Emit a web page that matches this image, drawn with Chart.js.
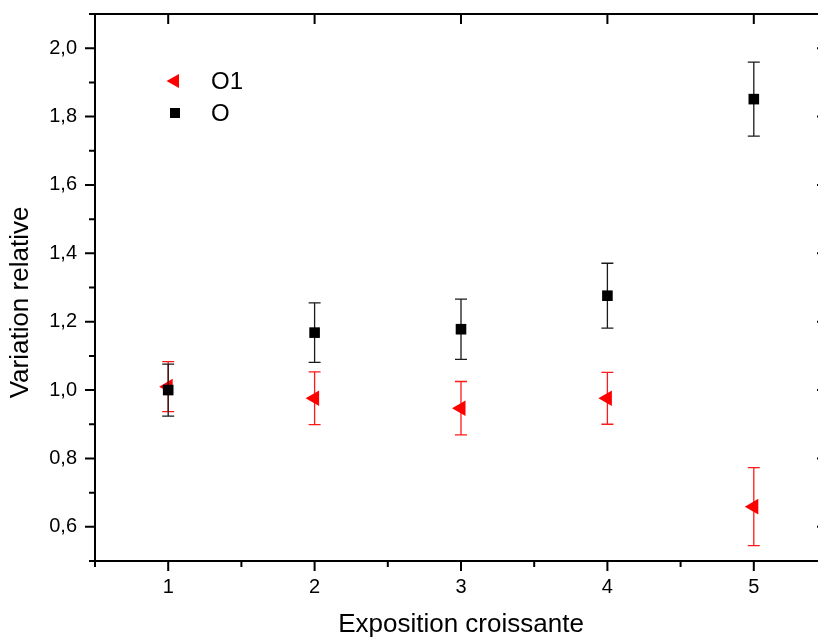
<!DOCTYPE html>
<html>
<head>
<meta charset="utf-8">
<script src="https://cdn.jsdelivr.net/npm/chart.js@4.4.0/dist/chart.umd.min.js"></script>
<style>
  html, body { margin: 0; padding: 0; background: #fff; overflow: hidden; }
  #wrap { width: 840px; height: 640px; }
</style>
</head>
<body>
<div id="wrap"><canvas id="chart" width="840" height="640"></canvas></div>
<script>
// data
const expo = [1, 2, 3, 4, 5];
const o1Values = [1.01, 0.976, 0.947, 0.976, 0.659];
const o1Errors = [0.073, 0.077, 0.078, 0.076, 0.114];
const oValues = [1.0, 1.168, 1.178, 1.276, 1.851];
const oErrors = [0.076, 0.087, 0.088, 0.095, 0.108];
const xTicks = [1, 2, 3, 4, 5];
const yTicks = [0.6, 0.8, 1.0, 1.2, 1.4, 1.6, 1.8, 2.0];

Chart.defaults.font.family = "'Liberation Sans', Arial, sans-serif";
Chart.defaults.color = '#000';

// error bars drawn under each dataset's own markers
const errorBars = {
    id: 'errorBars',
    beforeDatasetDraw(chart, args) {
        const ds = chart.data.datasets[args.index];
        if (!ds.errors) return;
        const ctx = chart.ctx;
        const yScale = chart.scales.y;
        ctx.save();
        ctx.strokeStyle = ds.errorColor;
        ctx.lineWidth = 1.3;
        args.meta.data.forEach((pt, i) => {
            const v = ds.data[i].y;
            const e = ds.errors[i];
            const top = yScale.getPixelForValue(v + e);
            const bot = yScale.getPixelForValue(v - e);
            ctx.beginPath();
            ctx.moveTo(pt.x, top);
            ctx.lineTo(pt.x, bot);
            ctx.moveTo(pt.x - 6, top);
            ctx.lineTo(pt.x + 6, top);
            ctx.moveTo(pt.x - 6, bot);
            ctx.lineTo(pt.x + 6, bot);
            ctx.stroke();
        });
        ctx.restore();
    }
};

// box frame with major / minor ticks on all sides, plus the y title
const frame = {
    id: 'frame',
    afterDraw(chart) {
        const ctx = chart.ctx;
        const { left, right, top, bottom } = chart.chartArea;
        const xs = chart.scales.x, ys = chart.scales.y;
        ctx.save();
        ctx.strokeStyle = '#000';
        ctx.lineWidth = 2;
        ctx.strokeRect(left, top, right - left, bottom - top);

        const yStep = yTicks[1] - yTicks[0];
        const xStep = xTicks[1] - xTicks[0];
        ctx.beginPath();
        yTicks.forEach(v => {
            const y = ys.getPixelForValue(v);
            ctx.moveTo(left - 10, y); ctx.lineTo(left, y);
            ctx.moveTo(right - 10, y); ctx.lineTo(right, y);
        });
        for (let v = yTicks[0] - yStep / 2; v <= ys.max + 1e-9; v += yStep) {
            if (v < ys.min - 1e-9) continue;
            const y = ys.getPixelForValue(v);
            ctx.moveTo(left - 6, y); ctx.lineTo(left, y);
        }
        xTicks.forEach(v => {
            const x = xs.getPixelForValue(v);
            ctx.moveTo(x, bottom); ctx.lineTo(x, bottom + 10);
            ctx.moveTo(x, top); ctx.lineTo(x, top + 10);
        });
        for (let v = xTicks[0] - xStep / 2; v <= xs.max + 1e-9; v += xStep) {
            if (v < xs.min - 1e-9) continue;
            const x = xs.getPixelForValue(v);
            ctx.moveTo(x, bottom); ctx.lineTo(x, bottom + 6);
        }
        ctx.stroke();

        // y axis title, a little below the centre as in the original
        ctx.translate(21, (top + bottom) / 2 + 15);
        ctx.rotate(-Math.PI / 2);
        ctx.font = "26px 'Liberation Sans', Arial, sans-serif";
        ctx.textAlign = 'center';
        ctx.textBaseline = 'middle';
        ctx.fillStyle = '#000';
        ctx.fillText('Variation relative', 0, 0);
        ctx.restore();
    }
};

// legend sits inside the plot, top left
const innerLegend = {
    id: 'innerLegend',
    afterDraw(chart) {
        const ctx = chart.ctx;
        const { left, top } = chart.chartArea;
        ctx.save();
        ctx.font = "24px 'Liberation Sans', Arial, sans-serif";
        ctx.textBaseline = 'middle';

        // O1 - left triangle
        const tx = left + 78, ty = top + 67;
        ctx.fillStyle = '#ff0000';
        ctx.beginPath();
        ctx.moveTo(tx - 6.5, ty);
        ctx.lineTo(tx + 6, ty - 7);
        ctx.lineTo(tx + 6, ty + 7);
        ctx.closePath();
        ctx.fill();
        ctx.fillStyle = '#000';
        ctx.fillText('O1', left + 116, ty + 1);

        // O - square
        const sy = top + 99;
        ctx.fillRect(left + 75, sy - 5, 10, 10);
        ctx.fillText('O', left + 116, sy + 1);
        ctx.restore();
    }
};

new Chart(document.getElementById('chart'), {
    type: 'scatter',
    data: {
        datasets: [
            {
                label: 'O1',
                data: expo.map((x, i) => ({ x: x, y: o1Values[i] })),
                errors: o1Errors,
                errorColor: '#ff1a1a',
                pointStyle: 'triangle',
                rotation: -90,
                pointRadius: 9,
                backgroundColor: '#ff0000',
                borderWidth: 0,
                order: 1
            },
            {
                label: 'O',
                data: expo.map((x, i) => ({ x: x, y: oValues[i] })),
                errors: oErrors,
                errorColor: '#1a1a1a',
                pointStyle: 'rect',
                pointRadius: 7.5,
                backgroundColor: '#000000',
                borderWidth: 0,
                order: 0
            }
        ]
    },
    options: {
        responsive: false,
        animation: false,
        devicePixelRatio: 1,
        layout: { padding: { top: 14, right: 13, left: 0, bottom: 0 } },
        plugins: {
            legend: { display: false },
            tooltip: { enabled: false }
        },
        scales: {
            x: {
                type: 'linear',
                min: 0.5,
                max: 5.5,
                afterBuildTicks: s => { s.ticks = xTicks.map(v => ({ value: v })); },
                afterFit: s => { s.height = 79; s.paddingLeft = 0; s.paddingRight = 0; },
                grid: { display: false, drawTicks: false },
                border: { display: false },
                ticks: { font: { size: 20 }, padding: 14, maxRotation: 0 },
                title: {
                    display: true,
                    text: 'Exposition croissante',
                    font: { size: 26 },
                    padding: { top: 0, bottom: 0 }
                }
            },
            y: {
                type: 'linear',
                min: 0.5,
                max: 2.1,
                afterBuildTicks: s => { s.ticks = yTicks.map(v => ({ value: v })); },
                afterFit: s => { s.width = 95; s.paddingTop = 0; s.paddingBottom = 0; },
                grid: { display: false, drawTicks: false },
                border: { display: false },
                ticks: {
                    font: { size: 20 },
                    padding: 18,
                    callback: v => v.toFixed(1).replace('.', ',')
                },
                title: { display: false }
            }
        }
    },
    plugins: [errorBars, frame, innerLegend]
});
</script>
</body>
</html>
